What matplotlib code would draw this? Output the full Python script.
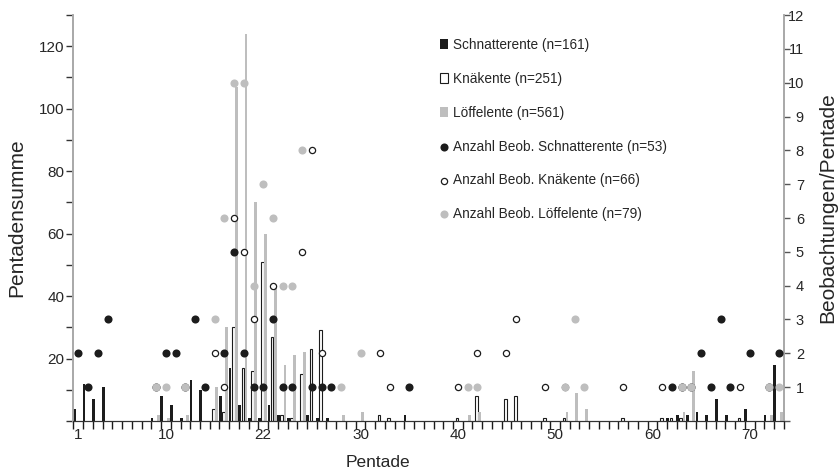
import matplotlib.pyplot as plt
import numpy as np

plt.rcParams['font.family'] = ['Liberation Sans', 'DejaVu Sans']

# Pentadensummen (bars)
schnatter_p = [1, 2, 3, 4, 9, 10, 11, 12, 13, 14, 16, 17, 18, 19, 20, 21, 22, 23, 25, 26, 27, 35,
               62, 63, 64, 65, 66, 67, 68, 70, 72, 73]
schnatter_sum = [4, 12, 7, 11, 1, 8, 5, 1, 13, 10, 8, 17, 5, 1, 1, 5, 2, 1, 2, 1, 1, 2,
                 1, 2, 2, 3, 2, 7, 2, 4, 2, 18]

knaek_p = [15, 16, 17, 18, 19, 20, 21, 22, 23, 24, 25, 26, 32, 33, 40, 42, 45, 46, 49, 51, 57, 61, 62, 63, 69]
knaek_sum = [4, 3, 30, 17, 16, 51, 27, 2, 1, 15, 23, 29, 2, 1, 1, 8, 7, 8, 1, 1, 1, 1, 1, 1, 1]

loeffel_p = [9, 10, 12, 15, 16, 17, 18, 19, 20, 21, 22, 23, 24, 28, 30, 41, 42, 51, 52, 53, 63, 64, 72, 73]
loeffel_sum = [2, 1, 2, 11, 30, 107, 124, 70, 60, 43, 18, 21, 22, 2, 3, 2, 3, 3, 9, 4, 3, 16, 2, 3]

# Anzahl Beobachtungen pro Pentade (dots, right axis)
schnatter_obs_p = schnatter_p
schnatter_obs = [2, 1, 2, 3, 1, 2, 2, 1, 3, 1, 2, 5, 2, 1, 1, 3, 1, 1, 1, 1, 1, 1,
                 1, 1, 1, 2, 1, 3, 1, 2, 1, 2]

knaek_obs_p = [15, 16, 17, 18, 19, 21, 24, 25, 26, 32, 33, 40, 42, 45, 46, 49, 51, 57, 61, 63, 69]
knaek_obs = [2, 1, 6, 5, 3, 4, 5, 8, 2, 2, 1, 1, 2, 2, 3, 1, 1, 1, 1, 1, 1]

loeffel_obs_p = loeffel_p
loeffel_obs = [1, 1, 1, 3, 6, 10, 10, 4, 7, 6, 4, 4, 8, 1, 2, 1, 1, 1, 3, 1, 1, 1, 1, 1]

# x tick labels (the original chart labels pentade 20 as "22")
xtick_pos = [1, 10, 20, 30, 40, 50, 60, 70]
xtick_lab = ["1", "10", "22", "30", "40", "50", "60", "70"]

black = '#1c1c1c'
grey = '#bebebe'
txt = '#262626'

fig = plt.figure(figsize=(8.39, 4.75), dpi=100)
ax = fig.add_axes([0.0876, 0.1137, 0.8466, 0.8547])
ax2 = ax.twinx()

w = 0.28
b1 = ax.bar(np.array(schnatter_p) - 0.42, schnatter_sum, width=w, color=black, linewidth=0)
b2 = ax.bar(np.array(knaek_p) - 0.09, knaek_sum, width=w, color='white', edgecolor=black, linewidth=0.8)
b3 = ax.bar(np.array(loeffel_p) + 0.23, loeffel_sum, width=w, color=grey, linewidth=0)

s1 = ax2.scatter(schnatter_obs_p, schnatter_obs, s=34, color=black, linewidths=0, zorder=3)
s2 = ax2.scatter(knaek_obs_p, knaek_obs, s=20, facecolor='white', edgecolor=black, linewidths=0.9, zorder=4)
s3 = ax2.scatter(loeffel_obs_p, loeffel_obs, s=34, color=grey, linewidths=0, zorder=5)

ax.set_xlim(0.5, 73.5)
ax.set_ylim(0, 130)
ax2.set_ylim(0, 12)

# x axis: ticks between pentades, labels on pentades
ax.set_xticks(np.arange(0.5, 74, 1))
ax.set_xticklabels([])
ax.set_xticks(xtick_pos, xtick_lab, minor=True)
ax.tick_params(axis='x', which='major', length=5.5, width=1, color=black, direction='out')
ax.tick_params(axis='x', which='minor', length=0, pad=5, labelsize=11, labelcolor=txt)

yt = np.arange(0, 131, 10)
ax.set_yticks(yt, [str(v) if v % 20 == 0 and v > 0 else '' for v in yt])
ax.tick_params(axis='y', length=5, width=1, color='#333333', pad=1.5, labelsize=11, labelcolor=txt)

yt2 = np.arange(0, 13)
ax2.set_yticks(yt2, [str(v) if v > 0 else '' for v in yt2])
ax2.tick_params(axis='y', length=4, width=1, color='#555555', pad=10.5, labelsize=10.5, labelcolor=txt)
for t in ax2.get_yticklabels():
    t.set_horizontalalignment('right')

for a in (ax, ax2):
    a.spines['top'].set_visible(False)
    a.spines['left'].set_color('#a8a8a8')
    a.spines['right'].set_color('#a8a8a8')
    a.spines['bottom'].set_color('#333333')
    a.spines['left'].set_linewidth(1.2)
    a.spines['right'].set_linewidth(1.2)

ax.set_xlabel("Pentade", fontsize=12.5, color=txt)
ax.xaxis.set_label_coords(0.429, -0.083)
ax.set_ylabel("Pentadensumme", fontsize=15, color=txt)
ax.yaxis.set_label_coords(-0.066, 0.5)
ax2.set_ylabel("Beobachtungen/Pentade", fontsize=15, color=txt, rotation=90, va='top')
ax2.yaxis.set_label_coords(1.048, 0.525)

handles = [b1, b2, b3, s1, s2, s3]
labels = ["Schnatterente (n=161)", "Knäkente (n=251)", "Löffelente (n=561)",
          "Anzahl Beob. Schnatterente (n=53)", "Anzahl Beob. Knäkente (n=66)",
          "Anzahl Beob. Löffelente (n=79)"]
fig.legend(handles, labels, loc='upper left', bbox_to_anchor=(440 / 839, 1 - 38 / 475),
           frameon=False, fontsize=9.8, labelspacing=1.46, handlelength=0.6, handleheight=0.8,
           handletextpad=0.35, borderaxespad=0, borderpad=0, labelcolor=txt)

fig.savefig("out.png", dpi=100)
